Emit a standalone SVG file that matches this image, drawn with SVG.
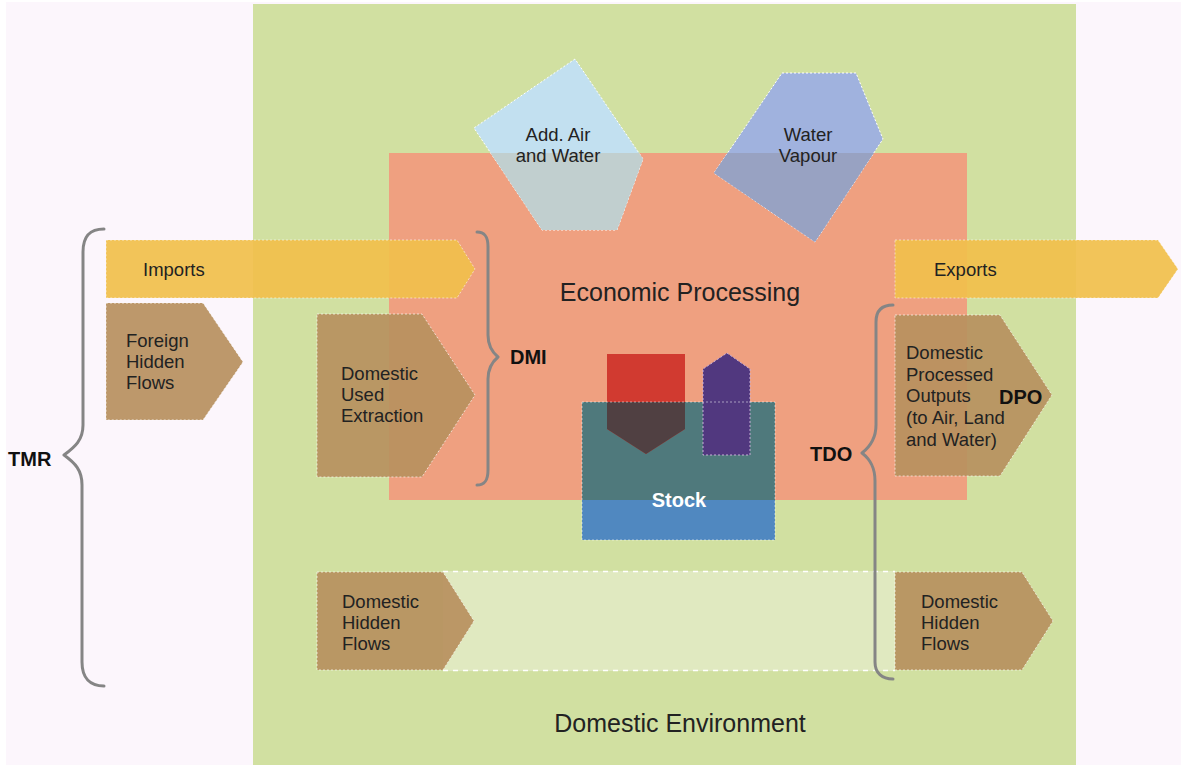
<svg xmlns="http://www.w3.org/2000/svg" width="1181" height="765" viewBox="0 0 1181 765">
  <style>
    text { font-family: "Liberation Sans", Arial, sans-serif; fill: #222; }
    .lbl { font-size: 18.5px; }
    .big { font-size: 25px; }
    .bold { font-size: 20px; font-weight: bold; fill: #111; }
    .flow { fill: #b8915f; opacity: 0.92; stroke: #fff; stroke-width: 1; stroke-dasharray: 2 2; stroke-opacity: 0.7; }
    .trade { fill: #f2c04c; opacity: 0.92; stroke: #fff; stroke-width: 1; stroke-dasharray: 2 2; stroke-opacity: 0.6; }
    .brace { fill: none; stroke: #858585; stroke-width: 3; stroke-linecap: round; stroke-linejoin: round; }
  </style>
  <defs>
    <clipPath id="clipEcon"><rect x="389" y="153" width="578" height="347"/></clipPath>
    <clipPath id="clipStock"><rect x="582" y="402" width="193" height="138"/></clipPath>
  </defs>

  <!-- page background -->
  <rect x="0" y="0" width="1181" height="765" fill="#ffffff"/>
  <rect x="6" y="2" width="1175" height="763" fill="#fcf6fc"/>

  <!-- domestic environment -->
  <g id="domestic-environment">
    <rect x="253" y="4" width="823" height="761" fill="#d1e0a1"/>
    <text class="big" x="680" y="732" text-anchor="middle">Domestic Environment</text>
  </g>

  <!-- economic processing -->
  <g id="economic-processing">
    <rect x="389" y="153" width="578" height="347" fill="#efa080"/>
    <text class="big" x="680" y="301" text-anchor="middle">Economic Processing</text>
  </g>

  <!-- air and water inputs -->
  <g id="add-air-water">
    <polygon points="575,59 474,128 542,230 617,230 643,159" fill="#c2e0f0" stroke="#fff" stroke-width="1" stroke-dasharray="2 2"/>
    <polygon points="575,59 474,128 542,230 617,230 643,159" fill="#c1cfcf" clip-path="url(#clipEcon)"/>
    <text class="lbl" x="558" y="141" text-anchor="middle">Add. Air</text>
    <text class="lbl" x="558" y="162" text-anchor="middle">and Water</text>
  </g>

  <g id="water-vapour">
    <polygon points="782,73 856,73 883,139 815,242 714,173" fill="#a0b2de" stroke="#fff" stroke-width="1" stroke-dasharray="2 2"/>
    <polygon points="782,73 856,73 883,139 815,242 714,173" fill="#98a2c2" clip-path="url(#clipEcon)"/>
    <text class="lbl" x="808" y="141" text-anchor="middle">Water</text>
    <text class="lbl" x="808" y="162" text-anchor="middle">Vapour</text>
  </g>

  <!-- stock -->
  <g id="stock">
    <rect x="582" y="402" width="193" height="138" fill="#5088c0"/>
    <rect x="582" y="402" width="193" height="98" fill="#4f797c"/>
    <polygon points="607,354 685,354 685,429 646,454 607,429" fill="#d13a30"/>
    <polygon points="607,354 685,354 685,429 646,454 607,429" fill="#504042" clip-path="url(#clipStock)"/>
    <polygon points="727,353 750,369 750,455 703,455 703,369" fill="#51387f" stroke="#c8b0d8" stroke-width="1" stroke-dasharray="2 2"/>
    <rect x="582" y="402" width="193" height="138" fill="none" stroke="#fff" stroke-width="1" stroke-dasharray="2 2" stroke-opacity="0.5"/>
    <text x="679" y="507" text-anchor="middle" style="font-size:20px;font-weight:bold;fill:#fff">Stock</text>
  </g>

  <!-- trade flows -->
  <g id="imports">
    <polygon class="trade" points="106,240 457,240 475,269 457,298 106,298"/>
    <text class="lbl" x="143" y="276">Imports</text>
  </g>

  <g id="exports">
    <polygon class="trade" points="895,240 1158,240 1178,269 1158,298 895,298"/>
    <text class="lbl" x="934" y="276">Exports</text>
  </g>

  <!-- material flows -->
  <g id="foreign-hidden-flows">
    <polygon class="flow" points="106,303 203,303 243,362 203,420 106,420"/>
    <text class="lbl" x="126" y="347">Foreign</text>
    <text class="lbl" x="126" y="368">Hidden</text>
    <text class="lbl" x="126" y="389">Flows</text>
  </g>

  <g id="domestic-used-extraction">
    <polygon class="flow" points="317,314 422,314 475,395 422,477 317,477"/>
    <text class="lbl" x="341" y="380">Domestic</text>
    <text class="lbl" x="341" y="401">Used</text>
    <text class="lbl" x="341" y="422">Extraction</text>
  </g>

  <g id="domestic-processed-outputs">
    <polygon class="flow" points="895,315 1000,315 1052,395 1000,476 895,476"/>
    <text class="lbl" x="906" y="359">Domestic</text>
    <text class="lbl" x="906" y="381">Processed</text>
    <text class="lbl" x="906" y="402">Outputs</text>
    <text class="lbl" x="906" y="424">(to Air, Land</text>
    <text class="lbl" x="906" y="446">and Water)</text>
    <text class="bold" x="999" y="404">DPO</text>
  </g>

  <g id="hidden-flow-band">
    <rect x="443" y="571" width="452" height="100" fill="#e0e9c0"/>
    <line x1="443" y1="571.5" x2="895" y2="571.5" stroke="#fff" stroke-width="1.5" stroke-dasharray="5 5"/>
    <line x1="443" y1="670.5" x2="895" y2="670.5" stroke="#fff" stroke-width="1.5" stroke-dasharray="5 5"/>
  </g>

  <g id="domestic-hidden-flows-in">
    <polygon class="flow" points="317,572 443,572 474,621 443,670 317,670"/>
    <text class="lbl" x="342" y="608">Domestic</text>
    <text class="lbl" x="342" y="629">Hidden</text>
    <text class="lbl" x="342" y="650">Flows</text>
  </g>

  <g id="domestic-hidden-flows-out">
    <polygon class="flow" points="895,572 1022,572 1053,621 1022,670 895,670"/>
    <text class="lbl" x="921" y="608">Domestic</text>
    <text class="lbl" x="921" y="629">Hidden</text>
    <text class="lbl" x="921" y="650">Flows</text>
  </g>

  <!-- grouping braces -->
  <g id="connectors">
    <path class="brace" d="M104,229 C90,229 83,236 83,252 L83,425 C83,440 75,447 64,455 C75,463 82,470 82,485 L82,662 C82,678 90,686 104,686"/>
    <path class="brace" d="M477,232 C485,232 488,237 488,247 L488,335 C488,346 492,352 498,357 C492,362 488,368 488,379 L488,470 C488,480 485,485 477,485"/>
    <path class="brace" d="M893,305 C882,305 876,310 876,322 L876,425 C876,438 871,446 862,453 C871,460 875,468 875,481 L875,662 C875,673 882,679 893,679"/>
  </g>

  <g id="brace-labels">
    <text class="bold" x="8" y="466">TMR</text>
    <text class="bold" x="510" y="364">DMI</text>
    <text class="bold" x="810" y="461">TDO</text>
  </g>
</svg>
